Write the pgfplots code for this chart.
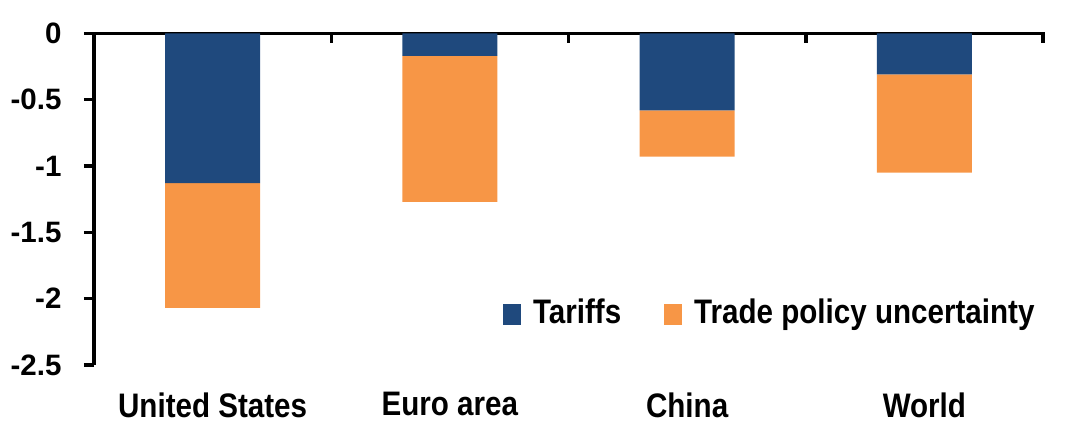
\documentclass[border=0pt]{standalone}
\usepackage{fontspec}
\setmainfont{Liberation Sans}
\newfontfamily\labfont{Liberation Sans}[FakeStretch=0.87]
\newfontfamily\legfont{Liberation Sans}[FakeStretch=0.87]
\usepackage{pgfplots}
\pgfplotsset{compat=1.18}
\definecolor{tarblue}{RGB}{31,73,125}
\definecolor{tpuorange}{RGB}{247,150,70}

\begin{document}
\begin{tikzpicture}
\begin{axis}[
  scale only axis, width=949pt, height=331.7pt,
  xmin=-0.5, xmax=3.5, ymin=-2.5, ymax=0,
  ybar stacked, bar width=0.4,
  clip=false,
  axis line style={draw=none},
  xtick={0,1,2,3}, xticklabels={United States,Euro area,China,World},
  xtick pos=bottom, ytick pos=left,
  x tick style={draw=none},
  tick align=outside, major tick length=10pt,
  y tick style={line width=3.5pt, black},
  xticklabel style={font=\labfont\bfseries\fontsize{34}{34}\selectfont, yshift=-14pt},
  ytick={-2.5,-2,-1.5,-1,-0.5,0}, yticklabels={-2.5,-2,-1.5,-1,-0.5,0},
  yticklabel style={font=\bfseries\fontsize{29.5}{29.5}\selectfont, xshift=-19pt},
  legend columns=2,
  legend style={draw=none, fill=none, inner sep=0pt, outer sep=0pt,
    nodes={inner xsep=12pt, inner ysep=0pt},
    font=\legfont\bfseries\fontsize{34}{34}\selectfont,
    at={(0.431,0.199)}, anchor=north west,
    /tikz/every even column/.append style={column sep=31pt}},
  legend image code/.code={\fill[#1] (0pt,-13pt) rectangle (18pt,8pt);},
]
\addplot[fill=tarblue, draw=none] coordinates {(0,-1.13) (1,-0.17) (2,-0.58) (3,-0.31)};
\addplot[fill=tpuorange, draw=none] coordinates {(0,-0.94) (1,-1.10) (2,-0.35) (3,-0.74)};
\legend{Tariffs, Trade policy uncertainty}
\draw[line width=3.5pt] (axis cs:-0.5,-2.5) -- (axis cs:-0.5,0) -- (axis cs:3.5,0) -- ++(0pt,-10pt);
\draw[line width=3.5pt] (axis cs:0.5,0) -- ++(0pt,-10pt);
\draw[line width=3.5pt] (axis cs:1.5,0) -- ++(0pt,-10pt);
\draw[line width=3.5pt] (axis cs:2.5,0) -- ++(0pt,-10pt);
\coordinate (SW) at (rel axis cs:0,0);
\end{axis}
\pgfresetboundingbox
\path (SW) ++(-94pt,-58pt) rectangle ++(1085pt,423pt);
\end{tikzpicture}
\end{document}
